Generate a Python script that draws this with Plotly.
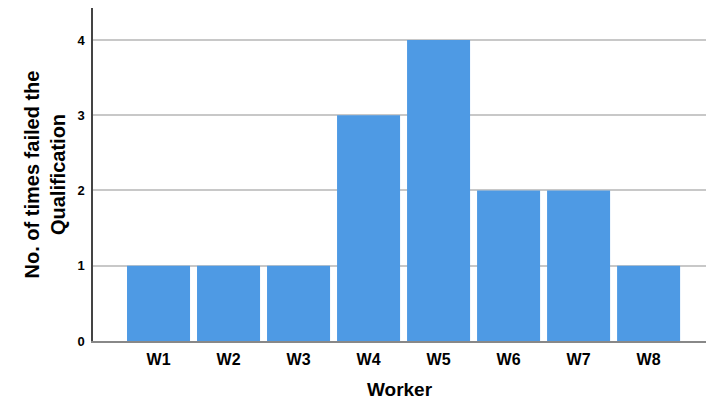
import plotly.graph_objects as go

workers = ["W1", "W2", "W3", "W4", "W5", "W6", "W7", "W8"]
fails = [1, 1, 1, 3, 4, 2, 2, 1]
y_ticks = [0, 1, 2, 3, 4]

fig = go.Figure(go.Bar(
    x=list(range(len(workers))), y=fails,
    marker=dict(color="#4E9AE4", line=dict(width=0)),
    width=0.9,
))

fig.update_layout(
    width=706, height=402,
    margin=dict(l=93, r=0, t=8, b=61),
    plot_bgcolor="white", paper_bgcolor="white",
    font=dict(family="Liberation Sans, Arial, sans-serif", color="black"),
    showlegend=False,
    bargap=0.1,
)
fig.update_xaxes(
    range=[-0.936, 7.82],
    tickmode="array", tickvals=list(range(len(workers))),
    ticktext=["<b>%s</b>" % w for w in workers],
    tickfont=dict(size=16),
    showgrid=False, zeroline=False,
    showline=True, linecolor="#888888", linewidth=1.5,
    ticks="outside", ticklen=3, tickcolor="rgba(0,0,0,0)",
    title=dict(text="<b>Worker</b>", font=dict(size=19), standoff=16),
)
fig.update_yaxes(
    range=[0, 4.425],
    tickmode="array", tickvals=y_ticks,
    ticktext=["<b>%d</b>" % v for v in y_ticks],
    tickfont=dict(size=13),
    showgrid=True, gridcolor="#C8C8C8", gridwidth=1.5,
    zeroline=False,
    showline=True, linecolor="#444444", linewidth=1.5,
    ticks="outside", ticklen=4, tickcolor="rgba(0,0,0,0)",
    title=dict(text="<b>No. of times failed the<br>Qualification</b>", font=dict(size=20), standoff=6),
)

fig.write_html("out.html")
